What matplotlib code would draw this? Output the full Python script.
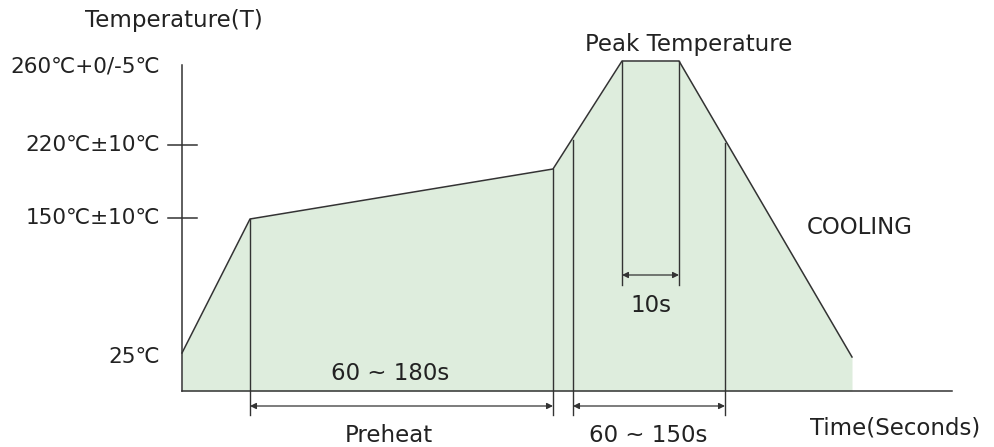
import matplotlib.pyplot as plt

# schematic reflow profile, units = px-ish distance from origin (left axis, baseline)
profile_t = [0, 68, 371, 440, 497, 670]
profile_h = [38, 172, 222, 330, 330, 34]

# y levels (schematic height) and their labels
level_h = [324, 246, 173, 34]
level_labels = ['260℃+0/-5℃', '220℃±10℃', '150℃±10℃', '25℃']
tick_levels = [246, 173]

# vertical guide lines: (t, top height, bottom height)
guides_t = [68, 371, 391, 543, 440, 497]
guides_top = [172, 222, 251, 248, 330, 330]
guides_bot = [-24, -24, -24, -24, 106, 106]

# dimension arrows
dims_t0 = [68, 391, 440]
dims_t1 = [371, 543, 497]
dims_h = [-15, -15, 116]

fill_color = '#deeddd'
line_color = '#333333'

fig = plt.figure(figsize=(9.95, 4.47), dpi=100)
ax = fig.add_axes([0, 0, 1, 1])
ax.set_xlim(-182, 813)
ax.set_ylim(-56, 391)
ax.axis('off')

ax.fill_between(profile_t, profile_h, 0, color=fill_color, lw=0)
ax.plot(profile_t, profile_h, color=line_color, lw=1.1)

# axes lines
ax.plot([0, 0], [0, 326], color=line_color, lw=1.1)
ax.plot([0, 770], [0, 0], color=line_color, lw=1.1)
for h in tick_levels:
    ax.plot([-14, 15], [h, h], color=line_color, lw=1.1)

for h, lab in zip(level_h, level_labels):
    ax.text(-22, h, lab, ha='right', va='center', fontsize=15.5, color='#222222')

for t, top, bot in zip(guides_t, guides_top, guides_bot):
    ax.plot([t, t], [bot, top], color=line_color, lw=1.0)

for t0, t1, h in zip(dims_t0, dims_t1, dims_h):
    ax.annotate('', xy=(t1, h), xytext=(t0, h),
                arrowprops=dict(arrowstyle='<|-|>', mutation_scale=9, lw=0.9,
                                color=line_color, shrinkA=0, shrinkB=0))

txt = dict(color='#222222', fontsize=16.5)
ax.text(-8, 371, 'Temperature(T)', ha='center', va='center', **txt)
ax.text(507, 346, 'Peak Temperature', ha='center', va='center', **txt)
ax.text(678, 164, 'COOLING', ha='center', va='center', **txt)
ax.text(469, 86, '10s', ha='center', va='center', **txt)
ax.text(208, 18, '60 ~ 180s', ha='center', va='center', **txt)
ax.text(207, -44, 'Preheat', ha='center', va='center', **txt)
ax.text(466, -45, '60 ~ 150s', ha='center', va='center', **txt)
ax.text(713, -37, 'Time(Seconds)', ha='center', va='center', **txt)

fig.savefig('out.png', dpi=100)
